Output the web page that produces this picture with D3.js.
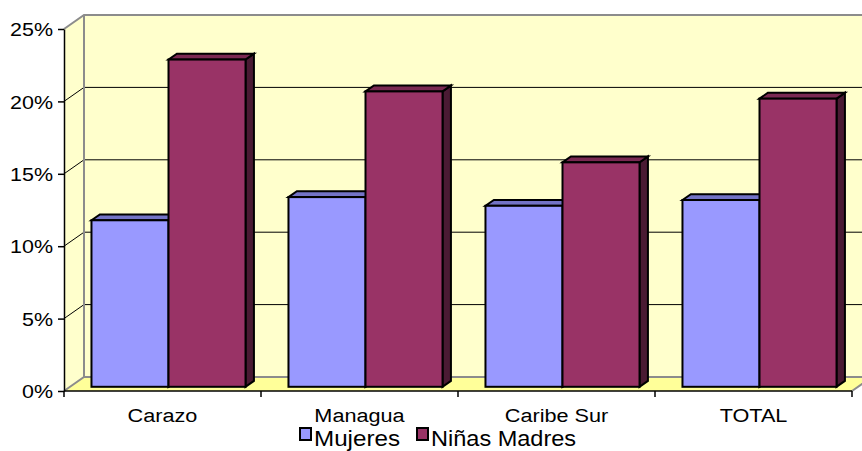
<!DOCTYPE html>
<html>
<head>
<meta charset="utf-8">
<script src="https://cdn.jsdelivr.net/npm/d3@7"></script>
<style>
  html, body { margin: 0; padding: 0; background: #fff; }
  svg text { font-family: Arial, "Liberation Sans", sans-serif; fill: #000; }
</style>
</head>
<body>
<svg id="chart" width="862" height="451"></svg>
<script>
// Share of women / teenage mothers by region (percent)
const categories = ["Carazo", "Managua", "Caribe Sur", "TOTAL"];
const seriesNames = ["Mujeres", "Niñas Madres"];
const mujeres = [11.5, 13.1, 12.5, 12.9];
const ninasMadres = [22.6, 20.4, 15.5, 19.9];
const yTicks = [0, 5, 10, 15, 20, 25];

const seriesValues = [mujeres, ninasMadres];
const faceColors = [
  { front: "#9999FF", top: "#7373C6", side: "#4D4D85" },
  { front: "#993366", top: "#7A2952", side: "#4A1A33" }
];

const svg = d3.select("#chart");

// front plane of the plot and the oblique depth of the 3D box
const plot = { left: 64, right: 852, top: 29, bottom: 391 };
const depth = { dx: 20, dy: -14 };
const barFront = 0.3, barBack = 0.72;   // bar position inside the depth

const y = d3.scaleLinear().domain([0, 25]).range([plot.bottom, plot.top]);
const x = d3.scaleBand().domain(categories)
  .range([plot.left, plot.right]).paddingInner(0.218).paddingOuter(0.109);
const xs = d3.scaleBand().domain(seriesNames).range([0, x.bandwidth()]);

const wallFill = "#FFFFCC", floorFill = "#FFFF99", edge = "#8C8C8C";
const bx = plot.left + depth.dx, bxr = plot.right + depth.dx;
const by = v => y(v) + depth.dy;

// text set in a slightly widened face
function widen(sel, sx) {
  sel.each(function () {
    const t = d3.select(this);
    const tx = +t.attr("x") || 0, ty = +t.attr("y") || 0;
    t.attr("x", 0).attr("y", 0)
      .attr("transform", `translate(${tx},${ty}) scale(${sx},1)`);
  });
}

// left wall, back wall and floor
svg.append("polygon")
  .attr("points", [[plot.left, y(25)], [bx, by(25)], [bx, by(0)], [plot.left, y(0)]].join(" "))
  .attr("fill", wallFill);
svg.append("rect")
  .attr("x", bx).attr("y", by(25)).attr("width", bxr - bx).attr("height", by(0) - by(25))
  .attr("fill", wallFill);
svg.append("polygon")
  .attr("points", [[plot.left, y(0)], [bx, by(0)], [bxr, by(0)], [plot.right, y(0)]].join(" "))
  .attr("fill", floorFill);

// gridlines on both walls
const grid = svg.append("g").attr("stroke", "#000").attr("stroke-width", 1).attr("fill", "none");
yTicks.filter(v => v > 0 && v < 25).forEach(v => {
  grid.append("path")
    .attr("d", `M${plot.left},${y(v)}L${bx},${by(v)}L${bxr},${by(v)}`);
});

// wall edges
const edges = svg.append("g").attr("stroke", edge).attr("stroke-width", 2).attr("fill", "none");
edges.append("path").attr("d", `M${plot.left},${y(25)}L${bx},${by(25)}L${bxr + 20},${by(25)}`);
edges.append("path").attr("d", `M${bx},${by(25)}L${bx},${by(0)}`);
edges.append("path").attr("d", `M${plot.left},${y(0)}L${bx},${by(0)}L${bxr},${by(0)}L${plot.right},${y(0)}`);

// 3D columns
const fx = barFront * depth.dx, fy = barFront * depth.dy;
const kx = barBack * depth.dx, ky = barBack * depth.dy;
const bars = svg.append("g").attr("stroke", "#000").attr("stroke-width", 2)
  .attr("stroke-linejoin", "miter");
categories.forEach((c, i) => {
  seriesNames.forEach((s, j) => {
    const v = seriesValues[j][i];
    const xl = x(c) + xs(s), w = xs.bandwidth();
    const yt = y(v), y0 = y(0);
    const col = faceColors[j];
    const g = bars.append("g");
    g.append("polygon").attr("fill", col.side)
      .attr("points", [[xl + w + fx, yt + fy], [xl + w + kx, yt + ky], [xl + w + kx, y0 + ky], [xl + w + fx, y0 + fy]].join(" "));
    g.append("polygon").attr("fill", col.top)
      .attr("points", [[xl + fx, yt + fy], [xl + kx, yt + ky], [xl + w + kx, yt + ky], [xl + w + fx, yt + fy]].join(" "));
    g.append("rect").attr("fill", col.front)
      .attr("x", xl + fx).attr("y", yt + fy).attr("width", w).attr("height", y0 - yt);
  });
});

// value axis
const yAxis = svg.append("g").attr("transform", `translate(${plot.left},0)`)
  .call(d3.axisLeft(y).tickValues(yTicks).tickFormat(d => d + "%").tickSize(6).tickSizeOuter(0).tickPadding(5));
yAxis.select(".domain").attr("stroke", "#000").attr("stroke-width", 1.5);
yAxis.selectAll(".tick line").attr("stroke", "#000").attr("stroke-width", 1.5);
yAxis.selectAll("text").attr("font-size", 19).attr("font-family", "Arial, 'Liberation Sans', sans-serif")
  .attr("dy", "0.35em");
widen(yAxis.selectAll("text"), 1.13);

// category axis: boundary ticks plus centred labels
const xAxis = svg.append("g").attr("transform", `translate(0,${plot.bottom})`);
xAxis.append("line").attr("x1", plot.left).attr("x2", plot.right)
  .attr("stroke", "#000").attr("stroke-width", 1.5);
const step = x.step();
d3.range(categories.length + 1).forEach(k => {
  const xp = plot.left + k * step;
  xAxis.append("line").attr("x1", xp).attr("x2", xp).attr("y1", 0).attr("y2", 6)
    .attr("stroke", "#000").attr("stroke-width", 1.5);
});
const catText = xAxis.selectAll("text.cat").data(categories).join("text").attr("class", "cat")
  .attr("x", d => plot.left + categories.indexOf(d) * step + step / 2)
  .attr("y", 31).attr("text-anchor", "middle").attr("font-size", 19)
  .text(d => d);
widen(catText, 1.14);

// legend
const legend = svg.append("g").attr("transform", "translate(300,428)");
const legendX = [0, 117];
seriesNames.forEach((s, j) => {
  const g = legend.append("g").attr("transform", `translate(${legendX[j]},0)`);
  g.append("rect").attr("width", 11).attr("height", 12)
    .attr("fill", faceColors[j].front).attr("stroke", "#000").attr("stroke-width", 2);
  const t = g.append("text").attr("x", 14).attr("y", 17.5).attr("font-size", 22).text(s);
  widen(t, j === 0 ? 1.1 : 1.07);
});
</script>
</body>
</html>
